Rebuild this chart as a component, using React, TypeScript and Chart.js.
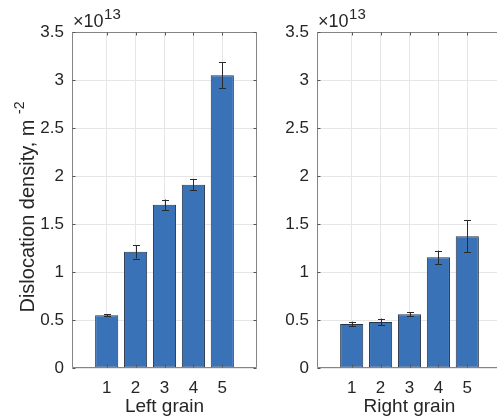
import React, { useEffect, useRef } from "react";
import { Chart, registerables } from "chart.js";

Chart.register(...registerables);

const categories = [1, 2, 3, 4, 5];
const leftValues = [0.55, 1.21, 1.7, 1.91, 3.05];
const leftErrors = [0.01, 0.07, 0.055, 0.06, 0.135];
const rightValues = [0.458, 0.48, 0.56, 1.153, 1.372];
const rightErrors = [0.025, 0.035, 0.02, 0.07, 0.165];
const yTicks = [0, 0.5, 1, 1.5, 2, 2.5, 3, 3.5];
const yTickLabels = ["0", "0.5", "1", "1.5", "2", "2.5", "3", "3.5"];
const exponentBase = "\u00d710";
const exponentPower = "13";
const leftXLabel = "Left grain";
const rightXLabel = "Right grain";
const yLabelMain = "Dislocation density, m";
const yLabelSup = "-2";

const FONT = "'Liberation Sans', Arial, Helvetica, sans-serif";
const BAR_FILL = "#3a72b8";
const BAR_EDGE = "#27354a";
const AXIS_COLOR = "#858585";
const GRID_COLOR = "#e6e6e6";
const TEXT_COLOR = "#262626";

type PanelProps = {
  values: number[];
  errors: number[];
  xLabel: string;
  showYLabel: boolean;
  left: number;
  viewWidth: number;
  canvasWidth: number;
  yAxisWidth: number;
};

function Panel(props: PanelProps) {
  const ref = useRef<HTMLCanvasElement | null>(null);
  useEffect(() => {
    const canvas = ref.current;
    if (!canvas) return;
    const overlay = {
      id: "overlay",
      afterDatasetsDraw(chart: any) {
        const ctx = chart.ctx as CanvasRenderingContext2D;
        const a = chart.chartArea;
        const xs = chart.scales.x;
        const ys = chart.scales.y;
        ctx.save();
        // error bars
        ctx.strokeStyle = "#2a2a2a";
        ctx.lineWidth = 1;
        props.values.forEach((v, i) => {
          const e = props.errors[i];
          const px = Math.round(xs.getPixelForValue(categories[i])) + 0.5;
          const top = ys.getPixelForValue(v + e);
          const bot = ys.getPixelForValue(v - e);
          ctx.beginPath();
          ctx.moveTo(px, top);
          ctx.lineTo(px, bot);
          ctx.moveTo(px - 3.5, Math.round(top) + 0.5);
          ctx.lineTo(px + 3.5, Math.round(top) + 0.5);
          ctx.moveTo(px - 3.5, Math.round(bot) + 0.5);
          ctx.lineTo(px + 3.5, Math.round(bot) + 0.5);
          ctx.stroke();
        });
        // box
        ctx.strokeStyle = AXIS_COLOR;
        ctx.lineWidth = 1;
        const L = Math.round(a.left) + 0.5;
        const R = Math.round(a.right) - 0.5;
        const T = Math.round(a.top) + 0.5;
        const B = Math.round(a.bottom) - 0.5;
        ctx.beginPath();
        ctx.moveTo(L, T);
        ctx.lineTo(R, T);
        ctx.lineTo(R, B);
        ctx.lineTo(L, B);
        ctx.closePath();
        ctx.stroke();
        // inward ticks
        ctx.strokeStyle = "#555";
        ctx.beginPath();
        categories.forEach((c) => {
          const px = Math.round(xs.getPixelForValue(c)) + 0.5;
          ctx.moveTo(px, B);
          ctx.lineTo(px, B - 3);
          ctx.moveTo(px, T);
          ctx.lineTo(px, T + 3);
        });
        yTicks.forEach((t) => {
          const py = Math.round(ys.getPixelForValue(t)) + 0.5;
          ctx.moveTo(L, py);
          ctx.lineTo(L + 3, py);
          ctx.moveTo(R, py);
          ctx.lineTo(R - 3, py);
        });
        ctx.stroke();
        // exponent
        ctx.fillStyle = TEXT_COLOR;
        ctx.textBaseline = "alphabetic";
        ctx.textAlign = "left";
        ctx.font = `18px ${FONT}`;
        ctx.fillText(exponentBase, a.left + 1, 27);
        const w = ctx.measureText(exponentBase).width;
        ctx.font = `15px ${FONT}`;
        ctx.fillText(exponentPower, a.left + 1 + w + 0.5, 19);
        // x label
        ctx.font = `19px ${FONT}`;
        ctx.textAlign = "center";
        ctx.textBaseline = "middle";
        ctx.fillText(props.xLabel, (a.left + a.right) / 2, 407);
        // y label
        if (props.showYLabel) {
          ctx.font = `20px ${FONT}`;
          const w1 = ctx.measureText(yLabelMain + " ").width;
          ctx.font = `14px ${FONT}`;
          const w2 = ctx.measureText(yLabelSup).width;
          const total = w1 + w2;
          ctx.translate(28, 207);
          ctx.rotate(-Math.PI / 2);
          ctx.textAlign = "left";
          ctx.textBaseline = "middle";
          ctx.font = `20px ${FONT}`;
          ctx.fillText(yLabelMain, -total / 2, 0);
          ctx.font = `14px ${FONT}`;
          ctx.fillText(yLabelSup, -total / 2 + w1, -8);
        }
        ctx.restore();
      },
    };
    const chart = new Chart(canvas, {
      type: "bar",
      data: {
        datasets: [
          {
            data: categories.map((c, i) => ({ x: c, y: props.values[i] })),
            backgroundColor: BAR_FILL,
            borderColor: BAR_EDGE,
            borderWidth: 1,
            borderSkipped: false,
            barPercentage: 0.8,
            categoryPercentage: 1,
          },
        ],
      },
      options: {
        animation: false,
        responsive: false,
        maintainAspectRatio: false,
        devicePixelRatio: 1,
        layout: { padding: { top: 32, right: 5, bottom: 0, left: 0 } },
        plugins: { legend: { display: false }, tooltip: { enabled: false } },
        scales: {
          x: {
            type: "linear",
            offset: false,
            min: -0.2,
            max: 6.2,
            afterBuildTicks: (s: any) => {
              s.ticks = categories.map((c) => ({ value: c }));
            },
            afterFit: (s: any) => {
              s.height = 51;
            },
            grid: { color: GRID_COLOR, drawTicks: false, offset: false },
            border: { display: false },
            ticks: {
              padding: 10,
              color: TEXT_COLOR,
              font: { family: FONT, size: 17 },
              callback: (v: any) => String(v),
            },
          },
          y: {
            type: "linear",
            min: 0,
            max: 3.5,
            afterBuildTicks: (s: any) => {
              s.ticks = yTicks.map((t) => ({ value: t }));
            },
            afterFit: (s: any) => {
              s.width = props.yAxisWidth;
            },
            grid: { color: GRID_COLOR, drawTicks: false },
            border: { display: false },
            ticks: {
              padding: 8,
              color: TEXT_COLOR,
              font: { family: FONT, size: 17 },
              callback: (v: any, i: number) => yTickLabels[i],
            },
          },
        },
      },
      plugins: [overlay],
    } as any);
    return () => chart.destroy();
  }, []);
  return (
    <div
      style={{
        position: "absolute",
        left: props.left,
        top: 0,
        width: props.viewWidth,
        height: 419,
        overflow: "hidden",
      }}
    >
      <canvas
        ref={ref}
        width={props.canvasWidth}
        height={419}
        style={{ width: props.canvasWidth, height: 419, display: "block" }}
      />
    </div>
  );
}

export default function App() {
  return (
    <div
      style={{
        position: "absolute",
        left: 0,
        top: 0,
        width: 497,
        height: 419,
        background: "#fff",
        overflow: "hidden",
      }}
    >
      <Panel
        values={leftValues}
        errors={leftErrors}
        xLabel={leftXLabel}
        showYLabel={true}
        left={0}
        viewWidth={262}
        canvasWidth={262}
        yAxisWidth={72}
      />
      <Panel
        values={rightValues}
        errors={rightErrors}
        xLabel={rightXLabel}
        showYLabel={false}
        left={262}
        viewWidth={235}
        canvasWidth={245}
        yAxisWidth={55}
      />
    </div>
  );
}
